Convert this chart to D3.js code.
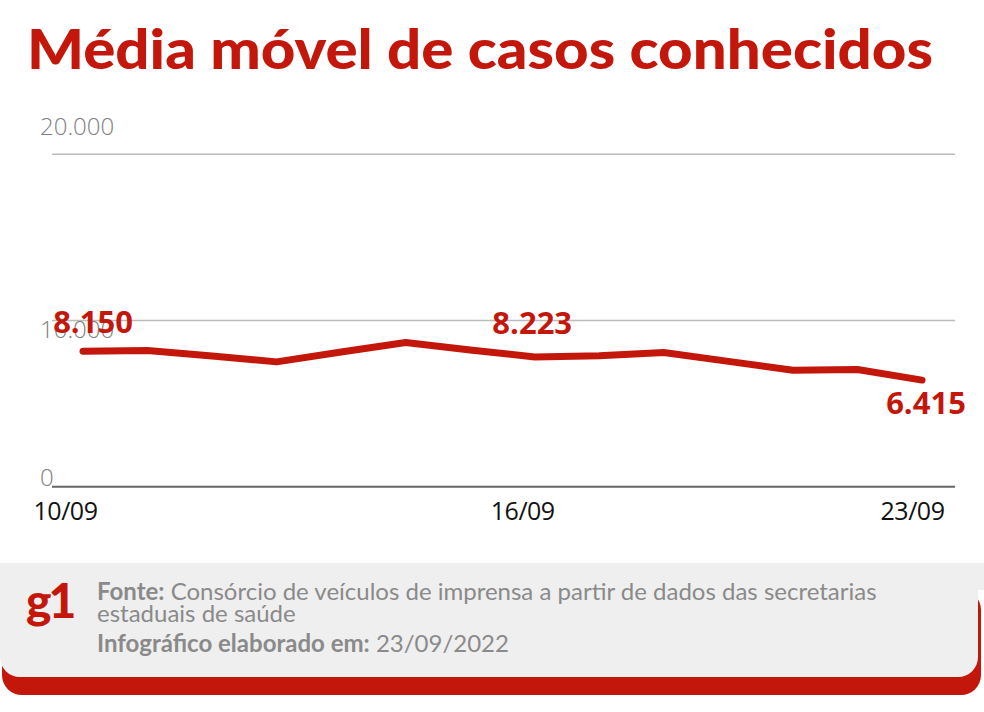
<!DOCTYPE html>
<html>
<head>
<meta charset="utf-8">
<script src="https://cdn.jsdelivr.net/npm/d3@7"></script>
<style>
  body { margin: 0; background: #fff; }
</style>
</head>
<body>
<div id="chart"></div>
<script>
// dados (média móvel de casos)
const dates = ["10/09", "11/09", "12/09", "13/09", "14/09", "15/09", "16/09",
               "17/09", "18/09", "19/09", "20/09", "21/09", "22/09", "23/09"];
const cases = [8150, 8190, 7860, 7510, 8100, 8680, 8223,
               7810, 7880, 8080, 7540, 7010, 7050, 6415];
const yTicks = [0, 10000, 20000];
const xTickLabels = ["10/09", "16/09", "23/09"];
const highlighted = ["10/09", "16/09", "23/09"];

const red = "#c4170c";
const W = 984, H = 712;

const ptbr = d3.formatLocale({decimal: ",", thousands: ".", grouping: [3], currency: ["R$", ""]});
const fmt = ptbr.format(",d");

const svg = d3.select("#chart")
  .append("svg")
    .attr("width", W)
    .attr("height", H)
    .attr("font-family", "'Open Sans', sans-serif");

// título
svg.append("text")
    .attr("x", 27)
    .attr("y", 69)
    .attr("fill", red)
    .attr("font-family", "Lato, sans-serif")
    .attr("font-weight", 900)
    .attr("font-size", 56)
    .attr("textLength", 906)
    .attr("lengthAdjust", "spacingAndGlyphs")
    .text("Média móvel de casos conhecidos");

const x = d3.scalePoint().domain(dates).range([83, 922]);
const y = d3.scaleLinear().domain([0, 20000]).range([486.7, 154.3]);

// linhas de grade
svg.append("g")
  .selectAll("line")
  .data(yTicks)
  .join("line")
    .attr("x1", 52)
    .attr("x2", 955)
    .attr("y1", d => y(d))
    .attr("y2", d => y(d))
    .attr("stroke", d => d === 0 ? "#666" : "#bbb")
    .attr("stroke-width", d => d === 0 ? 2 : 1.5);

// rótulos do eixo y (o 10.000 fica abaixo da linha, os outros acima)
const yAxis = svg.append("g")
    .attr("transform", "translate(40,0)")
    .call(d3.axisRight(y).tickValues(yTicks).tickSize(0).tickPadding(0).tickFormat(fmt));
yAxis.select(".domain").remove();
yAxis.selectAll("text")
    .attr("font-family", "'Open Sans', sans-serif")
    .attr("font-weight", 300)
    .attr("font-size", 24)
    .attr("fill", "#808080")
    .attr("dy", d => d === 20000 ? -20 : d === 10000 ? 17 : -1)
    .attr("dominant-baseline", "auto");

// eixo x
const xAxis = svg.append("g")
    .attr("transform", "translate(0,486.7)")
    .call(d3.axisBottom(x).tickValues(xTickLabels).tickSize(0).tickPadding(0));
xAxis.select(".domain").remove();
xAxis.selectAll("text")
    .attr("font-family", "'Open Sans', sans-serif")
    .attr("font-weight", 400)
    .attr("font-size", 25)
    .attr("fill", "#111")
    .attr("letter-spacing", -0.5)
    .attr("y", 33)
    .attr("dy", 0)
    .attr("dx", (d, i) => [-18, 52, -10][i]);

// linha
const line = d3.line()
  .x((d, i) => x(dates[i]))
  .y(d => y(d));

svg.append("path")
    .datum(cases)
    .attr("d", line)
    .attr("fill", "none")
    .attr("stroke", red)
    .attr("stroke-width", 7)
    .attr("stroke-linecap", "round")
    .attr("stroke-linejoin", "round");

// valores em destaque
const offsets = {"10/09": [10, -18], "16/09": [62, -16], "23/09": [4, 34]};
svg.append("g")
  .selectAll("text")
  .data(highlighted)
  .join("text")
    .attr("x", d => x(d) + offsets[d][0])
    .attr("y", d => y(cases[dates.indexOf(d)]) + offsets[d][1])
    .attr("text-anchor", "middle")
    .attr("fill", red)
    .attr("font-weight", 700)
    .attr("font-size", 31)
    .text(d => fmt(cases[dates.indexOf(d)]));

// rodapé
const foot = svg.append("g");
foot.append("rect")
    .attr("x", 2)
    .attr("y", 590)
    .attr("width", 979)
    .attr("height", 105)
    .attr("rx", 20)
    .attr("fill", red);
foot.append("path")
    .attr("d", "M0,563 H984 V590 H978 V657 A20,20 0 0 1 958,677 H20 A20,20 0 0 1 0,657 Z")
    .attr("fill", "#efefef");

foot.append("text")
    .attr("x", 26)
    .attr("y", 618)
    .attr("fill", red)
    .attr("font-family", "Lato, sans-serif")
    .attr("font-weight", 900)
    .attr("font-size", 48)
    .attr("letter-spacing", -3)
    .text("g1");

const footLines = [
  {b: "Fonte:", r: " Consórcio de veículos de imprensa a partir de dados das secretarias", y: 600},
  {b: "", r: "estaduais de saúde", y: 622},
  {b: "Infográfico elaborado em:", r: " 23/09/2022", y: 652}
];
const ft = foot.selectAll(".ft")
  .data(footLines)
  .join("text")
    .attr("class", "ft")
    .attr("x", 97)
    .attr("y", d => d.y)
    .attr("fill", "#8a8a8a")
    .attr("font-family", "Lato, sans-serif")
    .attr("font-size", 24);
ft.append("tspan").attr("font-weight", 700).text(d => d.b);
ft.append("tspan").attr("font-weight", 400).text(d => d.r);
</script>
</body>
</html>
